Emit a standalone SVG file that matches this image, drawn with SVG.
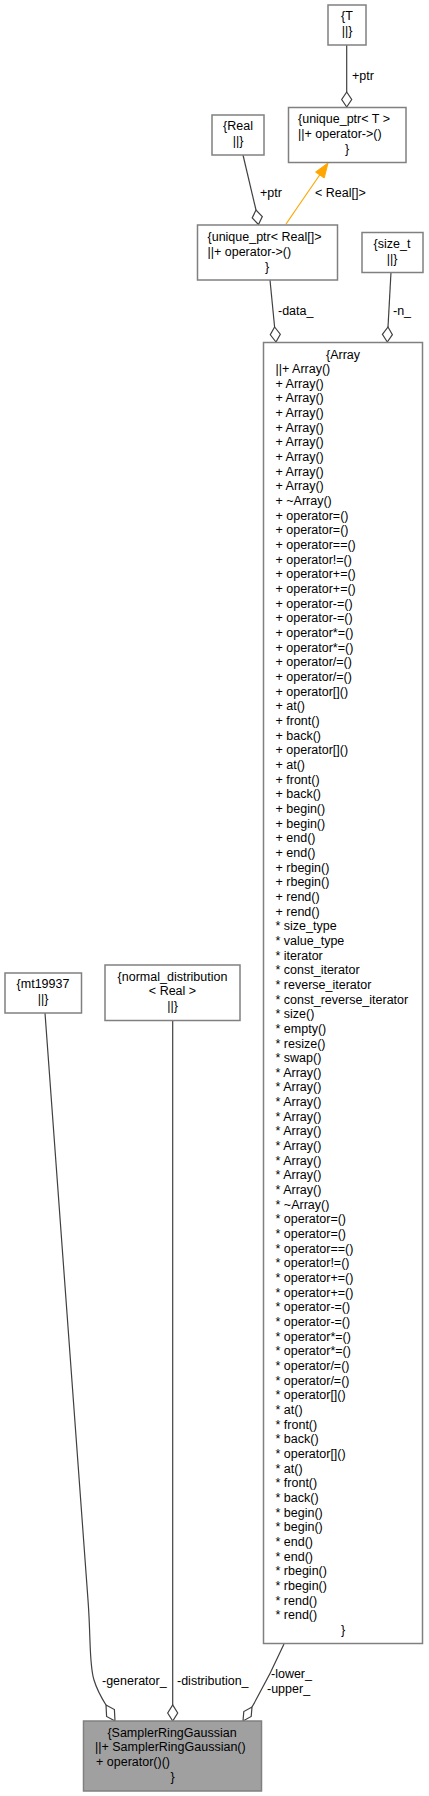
<svg xmlns="http://www.w3.org/2000/svg" width="429" height="1796" viewBox="0 0 429 1796">
<style>
.box{fill:#ffffff;stroke:#808080;stroke-width:1.5}
.main{fill:#a0a0a0;stroke:#808080;stroke-width:1.5}
.t{font-family:"Liberation Sans",Arial,sans-serif;font-size:12.5px;fill:#000000}
.c{text-anchor:middle}
.e{fill:none;stroke:#404040;stroke-width:1.2}
.d{fill:#ffffff;stroke:#404040;stroke-width:1.2}
.o{fill:none;stroke:#ffa500;stroke-width:1.2}
</style>
<g id="edges">
  <path class="e" d="M346.7,45 L346.7,92"/>
  <polygon class="d" points="346.7,107 341.7,99.5 346.7,92 351.7,99.5"/>
  <text class="t" x="352" y="80">+ptr</text>

  <path class="e" d="M243,155 L256,210"/>
  <polygon class="d" points="258.5,224.5 252.2,217.9 256,210 262.3,216.6"/>
  <text class="t" x="260" y="197">+ptr</text>

  <path class="o" d="M286,224 L320,174.5"/>
  <polygon fill="#ffa500" stroke="#ffa500" stroke-width="1" points="328,163 324.2,178 315.6,172"/>
  <text class="t" x="315" y="197">&lt; Real[]&gt;</text>

  <path class="e" d="M270,280 L274.6,327"/>
  <polygon class="d" points="276,342 270.3,334.8 274.6,327 280.3,334.2"/>
  <text class="t" x="278" y="315">-data_</text>

  <path class="e" d="M391,272 L388,327"/>
  <polygon class="d" points="387.3,342 382.4,334.3 388,327 392.4,334.7"/>
  <text class="t" x="393" y="315">-n_</text>

  <path class="e" d="M45,1013 L88,1600 C91,1640 89,1665 94,1680 C97,1690 101,1697 106,1705"/>
  <polygon class="d" points="115,1721 106.6,1716.5 106,1705 114.4,1709.5"/>
  <text class="t" x="102" y="1685">-generator_</text>

  <path class="e" d="M172.7,1021 L172.7,1705"/>
  <polygon class="d" points="172.7,1721 167.7,1713 172.7,1705 177.7,1713"/>
  <text class="t" x="177" y="1685">-distribution_</text>

  <path class="e" d="M284,1644 C276,1662 264,1686 252,1707"/>
  <polygon class="d" points="243,1721 243.8,1711.5 252,1707 251.2,1716.5"/>
  <text class="t" x="271" y="1678">-lower_</text>
  <text class="t" x="267" y="1693">-upper_</text>
</g>

<g id="node_T">
  <rect class="box" x="328" y="5" width="38" height="40"/>
  <text class="t c" x="347" y="20">{T</text>
  <text class="t c" x="347" y="35">||}</text>
</g>

<g id="node_unique_ptr_T">
  <rect class="box" x="288.5" y="107.5" width="117.5" height="55"/>
  <text class="t" x="298" y="123">{unique_ptr&lt; T &gt;</text>
  <text class="t" x="298" y="138">||+ operator-&gt;()</text>
  <text class="t c" x="347" y="153">}</text>
</g>

<g id="node_Real">
  <rect class="box" x="212" y="115" width="52" height="40"/>
  <text class="t c" x="238" y="130">{Real</text>
  <text class="t c" x="238" y="145">||}</text>
</g>

<g id="node_unique_ptr_Real">
  <rect class="box" x="197.5" y="225" width="140" height="55"/>
  <text class="t" x="207.5" y="240.5">{unique_ptr&lt; Real[]&gt;</text>
  <text class="t" x="207.5" y="255.5">||+ operator-&gt;()</text>
  <text class="t c" x="267" y="270.5">}</text>
</g>

<g id="node_size_t">
  <rect class="box" x="362" y="232.5" width="61" height="40"/>
  <text class="t c" x="392" y="248">{size_t</text>
  <text class="t c" x="392" y="263">||}</text>
</g>

<g id="node_Array">
  <rect class="box" x="263.5" y="342.5" width="159" height="1301"/>
  <text class="t c" x="343" y="358.5">{Array</text>
  <text class="t" x="275.5" y="373.16"><tspan x="275.5">||+ Array()</tspan><tspan x="275.5" dy="14.66">+ Array()</tspan><tspan x="275.5" dy="14.66">+ Array()</tspan><tspan x="275.5" dy="14.66">+ Array()</tspan><tspan x="275.5" dy="14.66">+ Array()</tspan><tspan x="275.5" dy="14.66">+ Array()</tspan><tspan x="275.5" dy="14.66">+ Array()</tspan><tspan x="275.5" dy="14.66">+ Array()</tspan><tspan x="275.5" dy="14.66">+ Array()</tspan><tspan x="275.5" dy="14.66">+ ~Array()</tspan><tspan x="275.5" dy="14.66">+ operator=()</tspan><tspan x="275.5" dy="14.66">+ operator=()</tspan><tspan x="275.5" dy="14.66">+ operator==()</tspan><tspan x="275.5" dy="14.66">+ operator!=()</tspan><tspan x="275.5" dy="14.66">+ operator+=()</tspan><tspan x="275.5" dy="14.66">+ operator+=()</tspan><tspan x="275.5" dy="14.66">+ operator-=()</tspan><tspan x="275.5" dy="14.66">+ operator-=()</tspan><tspan x="275.5" dy="14.66">+ operator*=()</tspan><tspan x="275.5" dy="14.66">+ operator*=()</tspan><tspan x="275.5" dy="14.66">+ operator/=()</tspan><tspan x="275.5" dy="14.66">+ operator/=()</tspan><tspan x="275.5" dy="14.66">+ operator[]()</tspan><tspan x="275.5" dy="14.66">+ at()</tspan><tspan x="275.5" dy="14.66">+ front()</tspan><tspan x="275.5" dy="14.66">+ back()</tspan><tspan x="275.5" dy="14.66">+ operator[]()</tspan><tspan x="275.5" dy="14.66">+ at()</tspan><tspan x="275.5" dy="14.66">+ front()</tspan><tspan x="275.5" dy="14.66">+ back()</tspan><tspan x="275.5" dy="14.66">+ begin()</tspan><tspan x="275.5" dy="14.66">+ begin()</tspan><tspan x="275.5" dy="14.66">+ end()</tspan><tspan x="275.5" dy="14.66">+ end()</tspan><tspan x="275.5" dy="14.66">+ rbegin()</tspan><tspan x="275.5" dy="14.66">+ rbegin()</tspan><tspan x="275.5" dy="14.66">+ rend()</tspan><tspan x="275.5" dy="14.66">+ rend()</tspan><tspan x="275.5" dy="14.66">* size_type</tspan><tspan x="275.5" dy="14.66">* value_type</tspan><tspan x="275.5" dy="14.66">* iterator</tspan><tspan x="275.5" dy="14.66">* const_iterator</tspan><tspan x="275.5" dy="14.66">* reverse_iterator</tspan><tspan x="275.5" dy="14.66">* const_reverse_iterator</tspan><tspan x="275.5" dy="14.66">* size()</tspan><tspan x="275.5" dy="14.66">* empty()</tspan><tspan x="275.5" dy="14.66">* resize()</tspan><tspan x="275.5" dy="14.66">* swap()</tspan><tspan x="275.5" dy="14.66">* Array()</tspan><tspan x="275.5" dy="14.66">* Array()</tspan><tspan x="275.5" dy="14.66">* Array()</tspan><tspan x="275.5" dy="14.66">* Array()</tspan><tspan x="275.5" dy="14.66">* Array()</tspan><tspan x="275.5" dy="14.66">* Array()</tspan><tspan x="275.5" dy="14.66">* Array()</tspan><tspan x="275.5" dy="14.66">* Array()</tspan><tspan x="275.5" dy="14.66">* Array()</tspan><tspan x="275.5" dy="14.66">* ~Array()</tspan><tspan x="275.5" dy="14.66">* operator=()</tspan><tspan x="275.5" dy="14.66">* operator=()</tspan><tspan x="275.5" dy="14.66">* operator==()</tspan><tspan x="275.5" dy="14.66">* operator!=()</tspan><tspan x="275.5" dy="14.66">* operator+=()</tspan><tspan x="275.5" dy="14.66">* operator+=()</tspan><tspan x="275.5" dy="14.66">* operator-=()</tspan><tspan x="275.5" dy="14.66">* operator-=()</tspan><tspan x="275.5" dy="14.66">* operator*=()</tspan><tspan x="275.5" dy="14.66">* operator*=()</tspan><tspan x="275.5" dy="14.66">* operator/=()</tspan><tspan x="275.5" dy="14.66">* operator/=()</tspan><tspan x="275.5" dy="14.66">* operator[]()</tspan><tspan x="275.5" dy="14.66">* at()</tspan><tspan x="275.5" dy="14.66">* front()</tspan><tspan x="275.5" dy="14.66">* back()</tspan><tspan x="275.5" dy="14.66">* operator[]()</tspan><tspan x="275.5" dy="14.66">* at()</tspan><tspan x="275.5" dy="14.66">* front()</tspan><tspan x="275.5" dy="14.66">* back()</tspan><tspan x="275.5" dy="14.66">* begin()</tspan><tspan x="275.5" dy="14.66">* begin()</tspan><tspan x="275.5" dy="14.66">* end()</tspan><tspan x="275.5" dy="14.66">* end()</tspan><tspan x="275.5" dy="14.66">* rbegin()</tspan><tspan x="275.5" dy="14.66">* rbegin()</tspan><tspan x="275.5" dy="14.66">* rend()</tspan><tspan x="275.5" dy="14.66">* rend()</tspan></text>
  <text class="t c" x="343" y="1633.9">}</text>
</g>

<g id="node_mt19937">
  <rect class="box" x="5" y="973" width="76.5" height="40"/>
  <text class="t c" x="43" y="988">{mt19937</text>
  <text class="t c" x="43" y="1003">||}</text>
</g>

<g id="node_normal_distribution">
  <rect class="box" x="105" y="965" width="135" height="55.5"/>
  <text class="t c" x="172.5" y="980.5">{normal_distribution</text>
  <text class="t c" x="172.5" y="995.2">&lt; Real &gt;</text>
  <text class="t c" x="172.5" y="1009.9">||}</text>
</g>

<g id="node_SamplerRingGaussian">
  <rect class="main" x="83.5" y="1721" width="178" height="70"/>
  <text class="t c" x="172" y="1736.5">{SamplerRingGaussian</text>
  <text class="t" x="95" y="1751.2">||+ SamplerRingGaussian()</text>
  <text class="t" x="96" y="1765.9">+ operator()()</text>
  <text class="t c" x="172.5" y="1780.6">}</text>
</g>
</svg>
